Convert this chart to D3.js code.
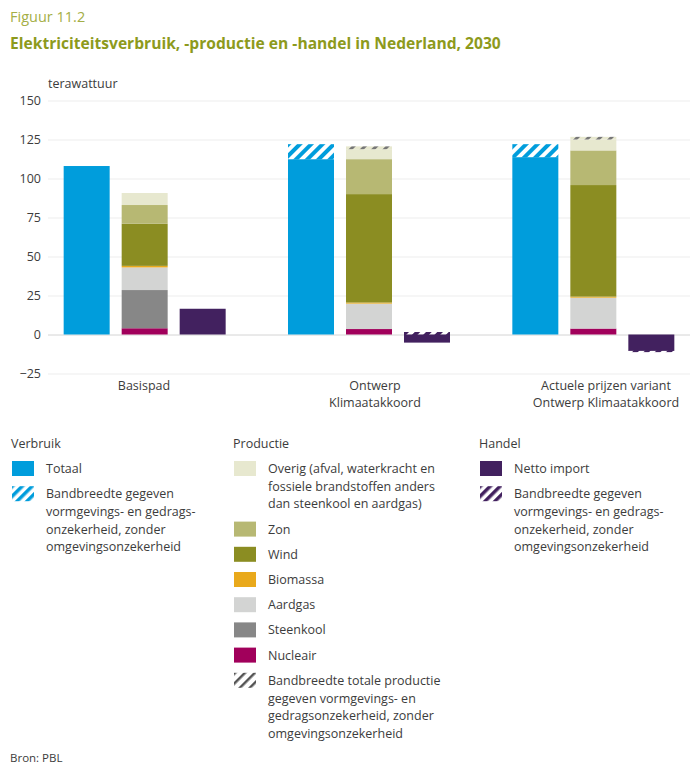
<!DOCTYPE html>
<html>
<head>
<meta charset="utf-8">
<script src="https://cdn.jsdelivr.net/npm/d3@7"></script>
<style>
  body { margin: 0; background: #fff; }
  text { font-family: "Open Sans", sans-serif; fill: #3c3c3c; }
</style>
</head>
<body>
<svg id="chart"></svg>
<script>

/////////////////////////////////
// DATA
//////////////////////////////////

var groups = ["Basispad", "Ontwerp Klimaatakkoord", "Actuele prijzen variant Ontwerp Klimaatakkoord"];
var groupLabels = [["Basispad"], ["Ontwerp", "Klimaatakkoord"], ["Actuele prijzen variant", "Ontwerp Klimaatakkoord"]];
var barKinds = ["verbruik", "productie", "handel"];

// verbruik (TWh)
var verbruik = [108, 112.4, 113.7];
var verbruikBand = [null, [112.4, 122], [113.7, 122]];

// productie per bron (TWh), van onder naar boven
var sources = ["Nucleair", "Steenkool", "Aardgas", "Biomassa", "Wind", "Zon", "Overig"];
var nucleair = [4, 3.5, 3.8];
var steenkool = [24.5, 0, 0];
var aardgas = [14.5, 16.3, 19.8];
var biomassa = [1, 0.7, 0.7];
var wind = [27, 69.5, 71.5];
var zon = [12, 22.4, 22.2];
var overig = [7.7, 6.4, 7];
var productieBand = [null, [118.8, 120.6], [125, 126.7]];

// handel (TWh)
var nettoImport = [16.5, -5.2, -10.5];
var importBand = [null, [1.6, -0.6], [-10, -11.3]];

var yTicks = [-25, 0, 25, 50, 75, 100, 125, 150];

/////////////////////////////////
// COLOURS
//////////////////////////////////

var blue = "#009ddc";
var purple = "#42215f";
var sourceColors = {
  "Nucleair": "#a1005b",
  "Steenkool": "#878787",
  "Aardgas": "#d3d4d3",
  "Biomassa": "#e9a91b",
  "Wind": "#8b8d22",
  "Zon": "#b7b873",
  "Overig": "#e7e8cf"
};
var olive = "#8d9a1c";

/////////////////////////////////
// SVG
//////////////////////////////////

var width = 697;
var height = 767;

var svg = d3.select("#chart")
    .attr("width", width)
    .attr("height", height);

svg.append("rect").attr("width", width).attr("height", height).attr("fill", "#fff");

// hatch patterns
var defs = svg.append("defs");
function makeHatch(id, color, size, thick, bg) {
  var p = defs.append("pattern")
      .attr("id", id)
      .attr("patternUnits", "userSpaceOnUse")
      .attr("width", size)
      .attr("height", size)
      .attr("patternTransform", "rotate(45)");
  if (bg) p.append("rect").attr("width", size).attr("height", size).attr("fill", bg);
  p.append("rect").attr("width", thick).attr("height", size).attr("fill", color);
}
makeHatch("hatchBlue", blue, 8, 4, "#fff");
makeHatch("hatchPurple", purple, 8, 4, null);
makeHatch("hatchGrey", "#777", 8, 3, sourceColors["Overig"]);
makeHatch("hatchBlueL", blue, 7, 3.5, null);
makeHatch("hatchPurpleL", purple, 7, 3.5, null);
makeHatch("hatchGreyL", "#555", 7, 2.5, null);

/////////////////////////////////
// TITLES
//////////////////////////////////

svg.append("text")
    .attr("x", 10).attr("y", 22)
    .style("font-size", "14.5px")
    .style("fill", "#a4ae45")
    .text("Figuur 11.2");

svg.append("text")
    .attr("x", 10).attr("y", 49)
    .style("font-size", "15.6px")
    .style("font-weight", "bold")
    .style("fill", olive)
    .text("Elektriciteitsverbruik, -productie en -handel in Nederland, 2030");

svg.append("text")
    .attr("x", 48).attr("y", 88)
    .style("font-size", "12.5px")
    .text("terawattuur");

/////////////////////////////////
// SCALES
//////////////////////////////////

var y = d3.scaleLinear()
    .domain([-25, 150])
    .range([373.5, 100.5]);

var x = d3.scaleBand()
    .domain(groups)
    .range([32.5, 705.5]);

var xInner = d3.scaleBand()
    .domain(barKinds)
    .range([-87, 87])
    .paddingInner(0.207)
    .paddingOuter(0.1035);

var labelX = d3.scalePoint()
    .domain(groups)
    .range([144, 606]);

/////////////////////////////////
// AXIS + GRID
//////////////////////////////////

var axis = svg.append("g")
    .attr("transform", "translate(48,0)")
    .call(d3.axisLeft(y).tickValues(yTicks).tickSize(-(690 - 48)).tickPadding(7));

axis.select(".domain").remove();
axis.selectAll(".tick line")
    .attr("stroke", function(d) { return d == 0 ? "#d4d4d4" : "#ededed"; })
    .attr("stroke-width", 1);
axis.selectAll(".tick text")
    .style("font-size", "12.5px")
    .style("font-family", "'Open Sans', sans-serif")
    .attr("fill", "#3c3c3c");

/////////////////////////////////
// BARS
//////////////////////////////////

var bars = svg.append("g");

function barX(i, kind) {
  return x(groups[i]) + x.bandwidth() / 2 + xInner(kind);
}
function rectRange(i, kind, a, b, fill) {
  bars.append("rect")
      .attr("x", barX(i, kind))
      .attr("width", xInner.bandwidth())
      .attr("y", y(Math.max(a, b)))
      .attr("height", Math.abs(y(a) - y(b)))
      .attr("fill", fill);
}

var sourceValues = {
  "Nucleair": nucleair, "Steenkool": steenkool, "Aardgas": aardgas,
  "Biomassa": biomassa, "Wind": wind, "Zon": zon, "Overig": overig
};

groups.forEach(function(g, i) {
  // verbruik
  rectRange(i, "verbruik", 0, verbruik[i], blue);
  if (verbruikBand[i]) rectRange(i, "verbruik", verbruikBand[i][0], verbruikBand[i][1], "url(#hatchBlue)");

  // productie, gestapeld
  var stack = 0;
  sources.forEach(function(s) {
    var v = sourceValues[s][i];
    if (v > 0) rectRange(i, "productie", stack, stack + v, sourceColors[s]);
    stack += v;
  });
  if (productieBand[i]) rectRange(i, "productie", productieBand[i][0], productieBand[i][1], "url(#hatchGrey)");

  // handel
  rectRange(i, "handel", 0, nettoImport[i], purple);
  if (importBand[i]) rectRange(i, "handel", importBand[i][0], importBand[i][1], "url(#hatchPurple)");
});

// x labels
var xl = svg.append("g");
groups.forEach(function(g, i) {
  groupLabels[i].forEach(function(line, j) {
    xl.append("text")
        .attr("x", labelX(g))
        .attr("y", 390 + j * 17)
        .attr("text-anchor", "middle")
        .style("font-size", "12.5px")
        .text(line);
  });
});

/////////////////////////////////
// LEGEND
//////////////////////////////////

var verbruikLegend = [
  { lines: ["Totaal"], fill: blue },
  { lines: ["Bandbreedte gegeven", "vormgevings- en gedrags-", "onzekerheid, zonder", "omgevingsonzekerheid"], fill: "url(#hatchBlueL)" }
];
var productieLegend = [
  { lines: ["Overig (afval, waterkracht en", "fossiele brandstoffen anders", "dan steenkool en aardgas)"], fill: sourceColors["Overig"] },
  { lines: ["Zon"], fill: sourceColors["Zon"] },
  { lines: ["Wind"], fill: sourceColors["Wind"] },
  { lines: ["Biomassa"], fill: sourceColors["Biomassa"] },
  { lines: ["Aardgas"], fill: sourceColors["Aardgas"] },
  { lines: ["Steenkool"], fill: sourceColors["Steenkool"] },
  { lines: ["Nucleair"], fill: sourceColors["Nucleair"] },
  { lines: ["Bandbreedte totale productie", "gegeven vormgevings- en", "gedragsonzekerheid, zonder", "omgevingsonzekerheid"], fill: "url(#hatchGreyL)" }
];
var handelLegend = [
  { lines: ["Netto import"], fill: purple },
  { lines: ["Bandbreedte gegeven", "vormgevings- en gedrags-", "onzekerheid, zonder", "omgevingsonzekerheid"], fill: "url(#hatchPurpleL)" }
];

function drawLegend(x0, title, items) {
  var lg = svg.append("g").attr("transform", "translate(" + x0 + ",0)");
  lg.append("text").attr("x", 0).attr("y", 448).style("font-size", "12.5px").text(title);
  var top = 461;
  items.forEach(function(it) {
    lg.append("rect")
        .attr("x", 1).attr("y", top)
        .attr("width", 22).attr("height", 15)
        .attr("fill", it.fill);
    it.lines.forEach(function(line, j) {
      lg.append("text")
          .attr("x", 35).attr("y", top + 12 + j * 17.7)
          .style("font-size", "12.5px")
          .text(line);
    });
    top += 25.2 + (it.lines.length - 1) * 17.7;
  });
}

drawLegend(11, "Verbruik", verbruikLegend);
drawLegend(233, "Productie", productieLegend);
drawLegend(479, "Handel", handelLegend);

svg.append("text")
    .attr("x", 10).attr("y", 762)
    .style("font-size", "11.5px")
    .text("Bron: PBL");

</script>
</body>
</html>
